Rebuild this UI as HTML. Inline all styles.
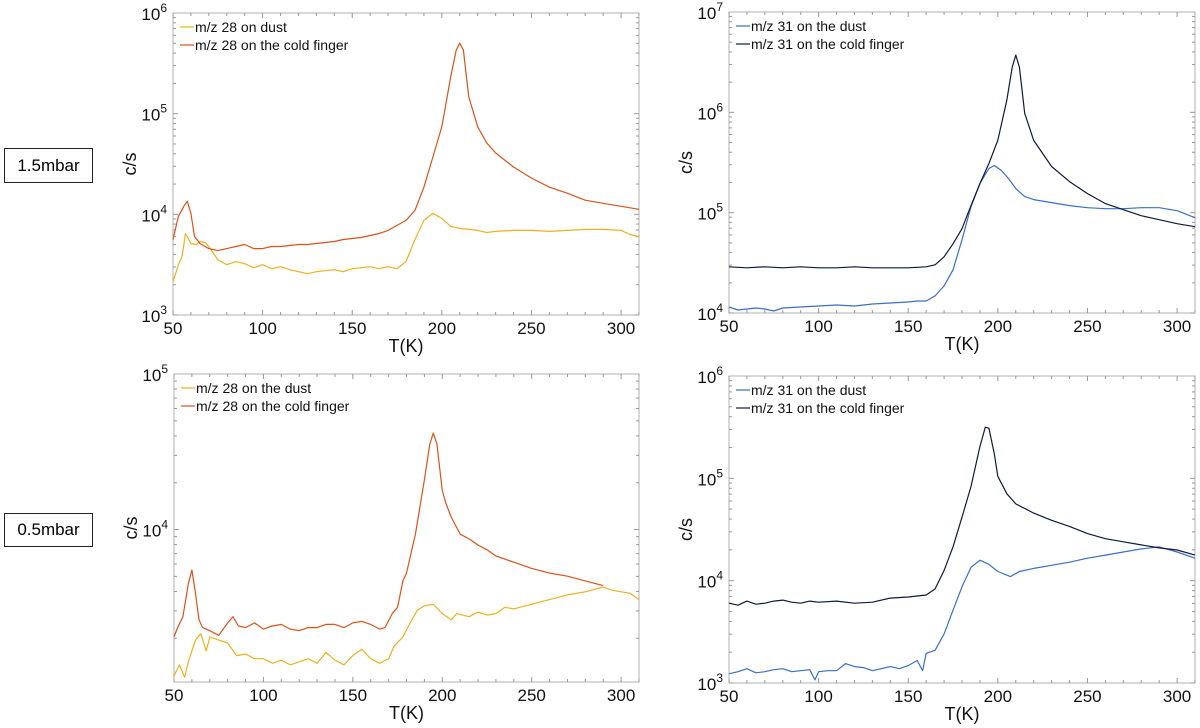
<!DOCTYPE html>
<html><head><meta charset="utf-8">
<style>
body{margin:0;background:#fff;font-family:"Liberation Sans",sans-serif;}
#wrap{position:relative;width:1200px;height:728px;overflow:hidden;}
.box{position:absolute;border:1px solid #222;font-size:17px;display:flex;align-items:center;justify-content:center;background:#fff;}
</style></head><body>
<div id="wrap">
<div class="box" style="left:4px;top:148px;width:87px;height:33px;">1.5mbar</div>
<div class="box" style="left:4px;top:513px;width:87px;height:32px;">0.5mbar</div>
<svg id="svg" width="1200" height="728" style="position:absolute;left:0;top:0"></svg>
</div>
<script>
// ---- data (log10 of counts/s) ----
const tlDustT=[50,53,55,57,60,63,65,68,70,75,80,85,90,95,100,105,110,115,120,125,130,135,140,145,150,155,160,165,170,175,180,185,190,195,200,205,210,215,220,225,230,240,250,260,270,280,290,300,305,310];
const tlDustV=[3.33,3.5,3.58,3.81,3.71,3.7,3.73,3.72,3.68,3.55,3.5,3.53,3.51,3.47,3.5,3.46,3.48,3.45,3.43,3.41,3.43,3.44,3.45,3.43,3.46,3.47,3.48,3.46,3.48,3.46,3.53,3.75,3.94,4.01,3.96,3.88,3.86,3.85,3.84,3.82,3.83,3.84,3.84,3.83,3.84,3.85,3.85,3.84,3.8,3.78];
const tlColdT=[50,53,56,58,60,62,65,70,75,80,85,90,95,100,105,110,115,120,125,130,135,140,145,150,155,160,165,170,175,180,185,190,195,200,205,208,210,212,215,220,225,230,240,250,260,270,280,290,300,310];
const tlColdV=[3.75,3.98,4.08,4.13,4.01,3.78,3.71,3.66,3.64,3.66,3.68,3.7,3.66,3.66,3.68,3.68,3.69,3.7,3.7,3.71,3.72,3.73,3.75,3.76,3.77,3.79,3.81,3.84,3.89,3.94,4.04,4.27,4.57,4.87,5.37,5.63,5.7,5.63,5.17,4.87,4.71,4.61,4.47,4.36,4.27,4.21,4.14,4.11,4.08,4.05];
const trDustT=[50,55,60,65,70,75,80,90,100,110,120,125,130,140,150,155,160,165,170,175,180,185,190,195,198,202,206,210,215,220,230,240,250,260,270,280,290,300,310];
const trDustV=[4.06,4.03,4.04,4.05,4.04,4.02,4.05,4.06,4.07,4.08,4.07,4.08,4.09,4.1,4.11,4.12,4.12,4.17,4.27,4.43,4.73,5.06,5.29,5.44,5.47,5.42,5.34,5.24,5.16,5.13,5.1,5.07,5.05,5.04,5.04,5.05,5.05,5.02,4.95];
const trColdT=[50,60,70,80,90,100,110,120,130,140,150,160,165,170,175,180,185,190,195,200,205,208,210,212,215,220,230,240,250,260,270,280,290,300,310];
const trColdV=[4.46,4.45,4.46,4.45,4.46,4.45,4.45,4.46,4.45,4.45,4.45,4.46,4.48,4.56,4.69,4.84,5.07,5.29,5.49,5.72,6.12,6.45,6.57,6.45,5.99,5.72,5.46,5.31,5.19,5.09,5.03,4.97,4.93,4.89,4.86];
const blDustT=[50,53,56,58,62,65,68,70,75,80,85,90,95,100,105,110,115,120,125,130,135,140,145,150,155,160,165,170,173,178,182,186,190,195,200,205,208,215,220,225,230,235,240,250,260,270,280,290,295,300,305,310];
const blDustV=[3.06,3.13,3.05,3.15,3.29,3.33,3.22,3.31,3.29,3.27,3.19,3.2,3.17,3.17,3.14,3.16,3.13,3.15,3.17,3.14,3.21,3.16,3.13,3.19,3.23,3.17,3.14,3.17,3.25,3.31,3.4,3.48,3.51,3.52,3.46,3.42,3.46,3.44,3.47,3.45,3.46,3.5,3.49,3.52,3.55,3.58,3.6,3.63,3.61,3.6,3.59,3.55];
const blColdT=[50,52,55,58,60,62,64,66,70,75,80,83,86,90,95,100,105,110,115,120,125,130,135,140,145,150,155,160,165,168,172,175,178,180,185,190,193,195,197,200,202,205,210,215,220,225,230,240,250,260,270,280,290];
const blColdV=[3.31,3.37,3.44,3.65,3.74,3.59,3.42,3.37,3.35,3.32,3.4,3.44,3.38,3.37,3.4,3.36,3.38,3.39,3.36,3.35,3.37,3.37,3.39,3.39,3.37,3.4,3.41,3.39,3.36,3.37,3.46,3.5,3.67,3.72,3.97,4.32,4.55,4.62,4.55,4.25,4.17,4.08,3.97,3.94,3.9,3.87,3.83,3.79,3.75,3.72,3.7,3.67,3.64];
const brDustT=[50,55,60,65,70,75,80,85,90,95,98,100,105,110,115,120,125,130,135,140,145,150,155,158,160,165,170,175,180,185,190,195,200,207,212,220,230,240,250,260,270,280,290,300,310];
const brDustV=[3.09,3.11,3.14,3.1,3.11,3.13,3.14,3.11,3.12,3.13,3.03,3.11,3.12,3.12,3.19,3.16,3.15,3.12,3.14,3.16,3.14,3.17,3.22,3.12,3.29,3.32,3.48,3.71,3.94,4.13,4.2,4.16,4.09,4.04,4.09,4.12,4.15,4.18,4.22,4.25,4.28,4.31,4.33,4.28,4.22];
const brColdT=[50,55,60,65,70,75,80,85,90,95,100,110,120,130,140,150,160,165,170,175,180,185,190,193,195,198,200,205,210,220,230,240,250,260,270,280,290,300,310];
const brColdV=[3.78,3.76,3.8,3.77,3.78,3.8,3.81,3.79,3.78,3.8,3.79,3.8,3.78,3.79,3.83,3.84,3.86,3.92,4.1,4.33,4.62,4.92,5.31,5.5,5.49,5.24,5.02,4.85,4.75,4.66,4.59,4.53,4.46,4.41,4.38,4.35,4.32,4.3,4.25];
const xTicks=[50,100,150,200,250,300];

const svg=document.getElementById('svg');
const NS='http://www.w3.org/2000/svg';
function mk(tag,attrs,parent){const e=document.createElementNS(NS,tag);for(const k in attrs)e.setAttribute(k,attrs[k]);(parent||svg).appendChild(e);return e;}

function panel(p){
  const g=mk('g',{});
  
  
  const xs=t=>p.x0+(t-50)/(310-50)*(p.x1-p.x0);
  const ys=l=>p.y1-(l-p.lmin)/(p.lmax-p.lmin)*(p.y1-p.y0);
  const fr=mk('rect',{x:p.x0,y:p.y0,width:p.x1-p.x0,height:p.y1-p.y0,fill:'none',stroke:'#b0b0b0','stroke-width':1},g);
  
  
  // x ticks
  for(let t=50;t<=310;t+=10){const x=xs(t);const L=(t%50===0)?5:3;
    mk('line',{x1:x,x2:x,y1:p.y1,y2:p.y1-L,stroke:'#999'},g);
    mk('line',{x1:x,x2:x,y1:p.y0,y2:p.y0+L,stroke:'#999'},g);}
  xTicks.forEach(t=>{const tx=mk('text',{x:xs(t),y:p.y1+19,'font-size':17,'text-anchor':'middle',fill:'#111'},g);tx.textContent=t;
    
    });
  // y ticks
  for(let d=Math.floor(p.lmin);d<p.lmax;d++){for(let m=1;m<10;m++){const l=d+Math.log10(m);if(l<p.lmin-1e-6||l>p.lmax+1e-6)continue;const y=ys(l);const L=m===1?5:3;
    mk('line',{x1:p.x0,x2:p.x0+L,y1:y,y2:y,stroke:'#999'},g);mk('line',{x1:p.x1,x2:p.x1-L,y1:y,y2:y,stroke:'#999'},g);}}
  p.yl.forEach(e=>{const y=ys(e);const tx=mk('text',{x:p.x0-6,y:y+7,'font-size':17,'text-anchor':'end',fill:'#111'},g);
    
    
    const a=mk('tspan',{},tx);a.textContent='10';const b=mk('tspan',{dy:-8,'font-size':12},tx);b.textContent=e;});
  const xl=mk('text',{x:(p.x0+p.x1)/2,y:p.y1+37,'font-size':18,'text-anchor':'middle',fill:'#111'},g);xl.textContent='T(K)';
  
  
  const yl=mk('text',{x:0,y:0,'font-size':18,'text-anchor':'middle',fill:'#111',transform:`translate(${p.x0-37},${(p.y0+p.y1)/2}) rotate(-90)`},g);yl.textContent='c/s';
  
  
  p.series.forEach((s,i)=>{
    const d=s.T.map((t,j)=>(j?'L':'M')+xs(t).toFixed(1)+','+ys(s.V[j]).toFixed(1)).join('');
    const pa=mk('path',{d:d,fill:'none',stroke:s.c,'stroke-width':1.2,'stroke-linejoin':'round'},g);
    
    
    const ly=p.y0+14+i*18;
    mk('line',{x1:p.x0+7,x2:p.x0+21,y1:ly,y2:ly,stroke:s.c,'stroke-width':1.2},g);
    const lt=mk('text',{x:p.x0+22,y:ly+5,'font-size':14,fill:'#111'},g);lt.textContent=s.label;
    
    
  });
}
const O1='#EDB120',O2='#D95319',B1='#3A6FC4',B2='#0E1A3C';
panel({name:'panel-1-5mbar-mz28',x0:173,x1:639,y0:13,y1:315,lmin:3,lmax:6,yl:[3,4,5,6],series:[
 {id:'line-mz28-dust',T:tlDustT,V:tlDustV,c:O1,label:'m/z 28 on dust'},
 {id:'line-mz28-cold-finger',T:tlColdT,V:tlColdV,c:O2,label:'m/z 28 on the cold finger'}]});
panel({name:'panel-1-5mbar-mz31',x0:729,x1:1195,y0:12,y1:313,lmin:4,lmax:7,yl:[4,5,6,7],series:[
 {id:'line-mz31-dust',T:trDustT,V:trDustV,c:B1,label:'m/z 31 on the dust'},
 {id:'line-mz31-cold-finger',T:trColdT,V:trColdV,c:B2,label:'m/z 31 on the cold finger'}]});
panel({name:'panel-0-5mbar-mz28',x0:174,x1:639,y0:374,y1:682,lmin:3.02,lmax:5,yl:[4,5],series:[
 {id:'line-mz28-dust-low',T:blDustT,V:blDustV,c:O1,label:'m/z 28 on the dust'},
 {id:'line-mz28-cold-finger-low',T:blColdT,V:blColdV,c:O2,label:'m/z 28 on the cold finger'}]});
panel({name:'panel-0-5mbar-mz31',x0:729,x1:1195,y0:376,y1:683,lmin:3,lmax:6,yl:[3,4,5,6],series:[
 {id:'line-mz31-dust-low',T:brDustT,V:brDustV,c:B1,label:'m/z 31 on the dust'},
 {id:'line-mz31-cold-finger-low',T:brColdT,V:brColdV,c:B2,label:'m/z 31 on the cold finger'}]});
</script>
</body></html>
